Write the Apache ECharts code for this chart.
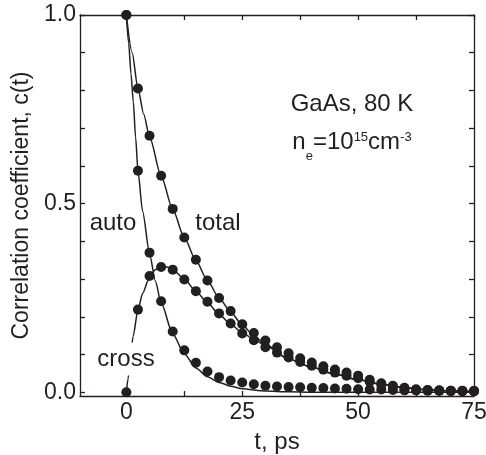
<!DOCTYPE html>
<html>
<head>
<meta charset="utf-8">
<script src="https://cdn.jsdelivr.net/npm/echarts@6/dist/echarts.min.js"></script>
<style>
html,body{margin:0;padding:0;background:#fff;}
#chart{width:486px;height:455px;}
</style>
</head>
<body>
<div id="chart"></div>
<script>
// ---- data ----
const tPoints = [0, 2.5, 5, 7.5, 10, 12.5, 15, 17.5, 20, 22.5, 25, 27.5, 30, 32.5, 35, 37.5, 40, 42.5, 45, 47.5, 50, 52.5, 55, 57.5, 60, 62.5, 65, 67.5, 70, 72.5, 75];
const autoData = [1.0, 0.587, 0.370, 0.241, 0.161, 0.111, 0.078, 0.055, 0.040, 0.031, 0.026, 0.021, 0.017, 0.015, 0.014, 0.013, 0.012, 0.011, 0.010, 0.009, 0.008, 0.007, 0.007, 0.006, 0.005, 0.005, 0.004, 0.004, 0.003, 0.003, 0.003];
const crossData = [0.0, 0.219, 0.308, 0.332, 0.325, 0.299, 0.268, 0.240, 0.209, 0.182, 0.156, 0.138, 0.119, 0.105, 0.092, 0.080, 0.070, 0.060, 0.052, 0.044, 0.037, 0.028, 0.020, 0.014, 0.009, 0.006, 0.005, 0.004, 0.004, 0.003, 0.003];
const totalData = [1.0, 0.805, 0.680, 0.574, 0.486, 0.410, 0.351, 0.296, 0.250, 0.215, 0.180, 0.157, 0.137, 0.119, 0.103, 0.090, 0.079, 0.069, 0.060, 0.052, 0.044, 0.033, 0.024, 0.017, 0.012, 0.008, 0.006, 0.005, 0.004, 0.004, 0.003];

// fitted curves
const autoFitT = [0, 0.5, 1, 1.5, 2, 2.5, 3.5, 5, 6.25, 7.5, 10, 12.5, 15, 17.5, 20, 22.5, 25, 30, 35, 40, 50, 60, 75];
const autoFitV = [1.0, 0.925, 0.845, 0.77, 0.675, 0.587, 0.48, 0.368, 0.295, 0.237, 0.155, 0.102, 0.064, 0.041, 0.026, 0.016, 0.009, 0.003, 0.001, 0.0, 0.0, 0.0, 0.0];
const totalFitT = [0, 1.25, 2.5, 3.75, 5, 7.5, 10, 12.5, 15, 17.5, 20, 22.5, 25, 27.5, 30, 35, 40, 45, 50, 55, 60, 65, 70, 75];
const totalFitV = [1.0, 0.90, 0.805, 0.737, 0.677, 0.573, 0.485, 0.410, 0.349, 0.296, 0.250, 0.213, 0.178, 0.150, 0.127, 0.088, 0.066, 0.048, 0.033, 0.021, 0.012, 0.007, 0.004, 0.002];
const crossFitT = [0, 0.37, 0.9, 1.45, 2.5, 3.5, 5, 6.25, 7.5, 8.75, 10, 12.5, 15, 17.5, 20, 22.5, 25, 27.5, 30, 35, 40, 45, 50, 55, 60, 65, 70, 75];
const crossFitV = [0.0, 0.036, 0.095, 0.148, 0.218, 0.262, 0.305, 0.325, 0.333, 0.332, 0.325, 0.300, 0.268, 0.237, 0.207, 0.180, 0.158, 0.140, 0.124, 0.088, 0.066, 0.048, 0.033, 0.021, 0.012, 0.007, 0.004, 0.002];

const xTickValues = [0, 12.5, 25, 37.5, 50, 62.5, 75];
const xLabelValues = [0, 25, 50, 75];
const yTickValues = [0, 0.1, 0.2, 0.3, 0.4, 0.5, 0.6, 0.7, 0.8, 0.9, 1.0];
const yLabelValues = [0, 0.5, 1.0];

const xTitle = 't, ps';
const yTitle = 'Correlation coefficient, c(t)';

// ---- build ----
const INK = '#231f20';
const FONT = '"Liberation Sans", Arial, Helvetica, sans-serif';
const pairs = (xs, ys) => xs.map((x, i) => [x, ys[i]]);

const chart = echarts.init(document.getElementById('chart'), null, {renderer: 'canvas'});

const baseX = {
  type: 'value', min: -10, max: 75,
  axisLine: {show: true, onZero: false, lineStyle: {color: INK, width: 1.3}},
  axisTick: {show: true, inside: true, length: 5, customValues: xTickValues, lineStyle: {color: INK, width: 1.3}},
  splitLine: {show: false}
};
const baseY = {
  type: 'value', min: -0.01, max: 1.0,
  axisLine: {show: true, onZero: false, lineStyle: {color: INK, width: 1.3}},
  axisTick: {show: true, inside: true, length: 5, customValues: yTickValues, lineStyle: {color: INK, width: 1.3}},
  splitLine: {show: false}
};

const lineSeries = (name, xs, ys) => ({
  name, type: 'line', data: pairs(xs, ys), showSymbol: false, symbol: 'none',
  smooth: 0.25, smoothMonotone: 'x',
  lineStyle: {color: INK, width: 1.5}, z: 2, silent: true, animation: false
});
const dotSeries = (name, ys) => ({
  name, type: 'scatter', data: pairs(tPoints, ys), symbol: 'circle', symbolSize: 10,
  itemStyle: {color: INK, opacity: 1}, z: 3, silent: true, animation: false
});

const option = {
  animation: false,
  backgroundColor: '#fff',
  grid: {left: 80, right: 12, top: 15, bottom: 59, containLabel: false, outerBoundsMode: 'none'},
  xAxis: [
    Object.assign({}, baseX, {
      position: 'bottom',
      name: xTitle, nameLocation: 'middle', nameGap: 34,
      nameTextStyle: {color: INK, fontSize: 24, fontFamily: FONT},
      axisLabel: {show: true, customValues: xLabelValues, margin: 5, color: INK, fontSize: 23, fontFamily: FONT, hideOverlap: false}
    }),
    Object.assign({}, baseX, {position: 'top', axisLabel: {show: false}})
  ],
  yAxis: [
    Object.assign({}, baseY, {
      position: 'left',
      name: yTitle, nameLocation: 'middle', nameGap: 43, nameRotate: 90,
      nameTextStyle: {color: INK, fontSize: 23, fontFamily: FONT},
      axisLabel: {show: true, customValues: yLabelValues, margin: 4, color: INK, fontSize: 23, fontFamily: FONT,
        formatter: v => v.toFixed(1)}
    }),
    Object.assign({}, baseY, {position: 'right', axisLabel: {show: false}})
  ],
  series: [
    lineSeries('auto fit', autoFitT, autoFitV),
    lineSeries('total fit', totalFitT, totalFitV),
    lineSeries('cross fit', crossFitT, crossFitV),
    dotSeries('auto', autoData),
    dotSeries('total', totalData),
    dotSeries('cross', crossData)
  ],
  graphic: [
    {type: 'text', x: 113, y: 223, z: 100, style: {text: 'auto', font: '24px ' + FONT, fill: INK, align: 'center', verticalAlign: 'middle', textAlign: 'center', textVerticalAlign: 'middle'}},
    {type: 'text', x: 218, y: 223, z: 100, style: {text: 'total', font: '24px ' + FONT, fill: INK, align: 'center', verticalAlign: 'middle', textAlign: 'center', textVerticalAlign: 'middle'}},
    {type: 'text', x: 126, y: 359, z: 100, style: {text: 'cross', font: '24px ' + FONT, fill: INK, align: 'center', verticalAlign: 'middle', textAlign: 'center', textVerticalAlign: 'middle', backgroundColor: '#fff', padding: [8, 2, 1, 2]}},
    {type: 'text', x: 352, y: 104, z: 100, style: {text: 'GaAs, 80 K', font: '24px ' + FONT, fill: INK, align: 'center', verticalAlign: 'middle', textAlign: 'center', textVerticalAlign: 'middle'}},
    {type: 'text', x: 352, y: 142, z: 100, style: {
      text: '{m|n}{sub|e}{m|=10}{sup|15}{m|cm}{sup|-3}',
      align: 'center', verticalAlign: 'middle', textAlign: 'center', textVerticalAlign: 'middle',
      fill: INK, font: '24px ' + FONT,
      rich: {
        m: {fontSize: 24, fontFamily: FONT, lineHeight: 24, fill: INK, color: INK, verticalAlign: 'middle'},
        sub: {fontSize: 13, fontFamily: FONT, lineHeight: 13, fill: INK, color: INK, verticalAlign: 'middle', padding: [28, 0, 0, 0]},
        sup: {fontSize: 13, fontFamily: FONT, lineHeight: 13, fill: INK, color: INK, verticalAlign: 'middle', padding: [0, 0, 9, 0]}
      }
    }}
  ]
};
chart.setOption(option);
</script>
</body>
</html>
